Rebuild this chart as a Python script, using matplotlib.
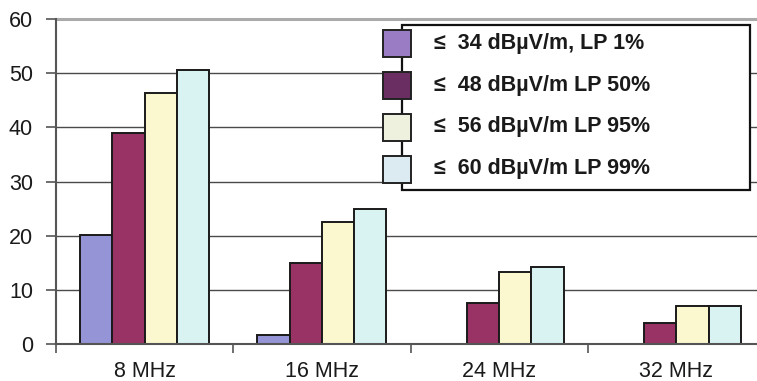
import matplotlib
matplotlib.use("Agg")
import matplotlib.pyplot as plt
from matplotlib.patches import Rectangle
import numpy as np

plt.rcParams['font.family'] = ['Liberation Sans', 'DejaVu Sans']

categories = ["8 MHz", "16 MHz", "24 MHz", "32 MHz"]
series_labels = ["≤  34 dBµV/m, LP 1%", "≤  48 dBµV/m LP 50%",
                 "≤  56 dBµV/m LP 95%", "≤  60 dBµV/m LP 99%"]
lp1 = [20.1, 1.7, 0.0, 0.0]
lp50 = [38.9, 15.0, 7.5, 3.8]
lp95 = [46.4, 22.6, 13.3, 7.1]
lp99 = [50.5, 24.9, 14.2, 7.1]
yticks = [0, 10, 20, 30, 40, 50, 60]

bar_colors = ["#9494d6", "#993366", "#fbf8d0", "#d9f3f3"]
legend_colors = ["#9a7cc4", "#6a2e62", "#eef1de", "#dbebf1"]

W, H = 757, 381
fig = plt.figure(figsize=(W / 100, H / 100), dpi=100)
ax = fig.add_axes([56 / W, 37 / H, 709 / W, 325 / H])

x = np.arange(len(categories))
bw = 0.182
series = [lp1, lp50, lp95, lp99]
for i, (vals, col) in enumerate(zip(series, bar_colors)):
    ax.bar(x + (i - 1.5) * bw, vals, bw, color=col, edgecolor="#1a1a1a",
           linewidth=1.4, zorder=3)

ax.set_xlim(-0.5, 3.5)
ax.set_ylim(0, 60)
ax.set_yticks(yticks)
ax.set_yticklabels([str(t) for t in yticks], fontsize=15.5, color="#1a1a1a")
for t in yticks[1:-1]:
    ax.axhline(t, color="#4a4a4a", linewidth=1.0, zorder=1)
ax.axhline(60, color="#aaaaaa", linewidth=2.2, zorder=1, clip_on=False)

ax.set_xticks(x)
ax.set_xticklabels(categories, fontsize=15.5, color="#1a1a1a")
ax.set_xticks(np.arange(-0.5, 3.6, 1.0), minor=True)
ax.tick_params(axis="x", which="major", length=0, pad=12)
ax.tick_params(axis="x", which="minor", length=6.5, width=1.2, color="#555555")
ax.tick_params(axis="y", length=7, width=1.2, color="#555555", pad=9.5)

for s in ["top", "right"]:
    ax.spines[s].set_visible(False)
ax.spines["left"].set_color("#555555")
ax.spines["left"].set_linewidth(1.5)
ax.spines["bottom"].set_color("#555555")
ax.spines["bottom"].set_linewidth(1.5)
ax.spines["bottom"].set_zorder(4)

# legend box with swatches straddling its left border
def fx(px):
    return px / W

def fy(py):
    return 1 - py / H

box = Rectangle((fx(402), fy(190)), fx(750) - fx(402), fy(25) - fy(190),
                transform=fig.transFigure, facecolor="white",
                edgecolor="#111111", linewidth=1.6, zorder=5)
fig.patches.append(box)
centers = [43.5, 85.5, 127, 169]
for cy, col, lab in zip(centers, legend_colors, series_labels):
    sw = Rectangle((fx(383), fy(cy + 13.5)), fx(411) - fx(383), 27 / H,
                   transform=fig.transFigure, facecolor=col,
                   edgecolor="#222222", linewidth=1.4, zorder=6)
    fig.patches.append(sw)
    fig.text(fx(434), fy(cy), lab, fontsize=15.5, fontweight="bold",
             color="#1a1a1a", va="center", ha="left", zorder=7)

fig.savefig("out.png", dpi=100)
